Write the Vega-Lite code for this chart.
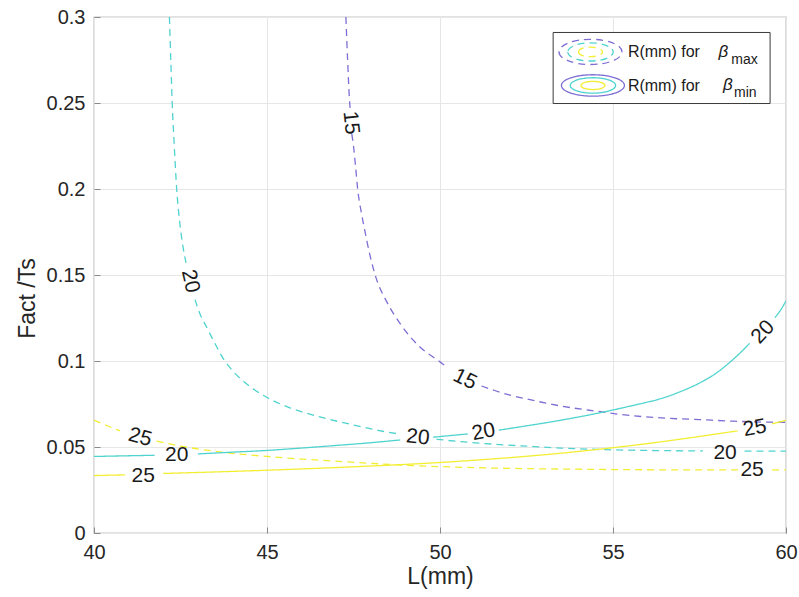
{
  "$schema": "https://vega.github.io/schema/vega-lite/v6.json",
  "width": 692,
  "height": 516,
  "autosize": {"type": "none"},
  "padding": {"left": 94, "top": 17, "right": 13, "bottom": 64},
  "background": "white",
  "config": {
    "font": "Liberation Sans",
    "view": {"stroke": "#8a8a8a", "strokeWidth": 1.2},
    "axis": {
      "domain": false,
      "grid": true,
      "gridColor": "#e6e6e6",
      "gridWidth": 1,
      "tickColor": "#8a8a8a",
      "tickSize": -6,
      "labelFont": "Liberation Sans",
      "labelFontSize": 20,
      "labelColor": "#262626",
      "labelFlush": false,
      "titleFont": "Liberation Sans",
      "titleFontSize": 23,
      "titleFontWeight": "normal",
      "titleColor": "#262626"
    }
  },
  "datasets": {
    "curves": [
      {"type": "max", "level": 15, "seg": "p1", "L": 47.28, "F": 0.300},
      {"type": "max", "level": 15, "seg": "p1", "L": 47.33, "F": 0.275},
      {"type": "max", "level": 15, "seg": "p1", "L": 47.39, "F": 0.250},
      {"type": "max", "level": 15, "seg": "p1", "L": 47.41, "F": 0.2455},
      {"type": "max", "level": 15, "seg": "p2", "L": 47.45, "F": 0.232},
      {"type": "max", "level": 15, "seg": "p2", "L": 47.50, "F": 0.225},
      {"type": "max", "level": 15, "seg": "p2", "L": 47.56, "F": 0.213},
      {"type": "max", "level": 15, "seg": "p2", "L": 47.62, "F": 0.200},
      {"type": "max", "level": 15, "seg": "p2", "L": 47.72, "F": 0.187},
      {"type": "max", "level": 15, "seg": "p2", "L": 47.83, "F": 0.1755},
      {"type": "max", "level": 15, "seg": "p2", "L": 47.97, "F": 0.162},
      {"type": "max", "level": 15, "seg": "p2", "L": 48.15, "F": 0.1485},
      {"type": "max", "level": 15, "seg": "p2", "L": 48.46, "F": 0.1345},
      {"type": "max", "level": 15, "seg": "p2", "L": 48.89, "F": 0.1205},
      {"type": "max", "level": 15, "seg": "p2", "L": 49.4, "F": 0.1085},
      {"type": "max", "level": 15, "seg": "p2", "L": 50.0, "F": 0.0995},
      {"type": "max", "level": 15, "seg": "p2", "L": 50.2, "F": 0.0965},
      {"type": "max", "level": 15, "seg": "p3", "L": 51.2, "F": 0.0855},
      {"type": "max", "level": 15, "seg": "p3", "L": 51.6, "F": 0.0827},
      {"type": "max", "level": 15, "seg": "p3", "L": 52.0, "F": 0.0803},
      {"type": "max", "level": 15, "seg": "p3", "L": 52.6, "F": 0.0775},
      {"type": "max", "level": 15, "seg": "p3", "L": 53.5, "F": 0.0738},
      {"type": "max", "level": 15, "seg": "p3", "L": 54.53, "F": 0.0708},
      {"type": "max", "level": 15, "seg": "p3", "L": 55.5, "F": 0.0683},
      {"type": "max", "level": 15, "seg": "p3", "L": 56.5, "F": 0.0668},
      {"type": "max", "level": 15, "seg": "p3", "L": 57.5, "F": 0.0659},
      {"type": "max", "level": 15, "seg": "p3", "L": 58.5, "F": 0.065},
      {"type": "max", "level": 15, "seg": "p3", "L": 59.3, "F": 0.0645},
      {"type": "max", "level": 15, "seg": "p3", "L": 60.0, "F": 0.0644},

      {"type": "max", "level": 20, "seg": "c1", "L": 42.18, "F": 0.300},
      {"type": "max", "level": 20, "seg": "c1", "L": 42.22, "F": 0.275},
      {"type": "max", "level": 20, "seg": "c1", "L": 42.26, "F": 0.250},
      {"type": "max", "level": 20, "seg": "c1", "L": 42.32, "F": 0.225},
      {"type": "max", "level": 20, "seg": "c1", "L": 42.39, "F": 0.200},
      {"type": "max", "level": 20, "seg": "c1", "L": 42.47, "F": 0.182},
      {"type": "max", "level": 20, "seg": "c1", "L": 42.56, "F": 0.168},
      {"type": "max", "level": 20, "seg": "c1", "L": 42.66, "F": 0.157},
      {"type": "max", "level": 20, "seg": "c2", "L": 42.92, "F": 0.1357},
      {"type": "max", "level": 20, "seg": "c2", "L": 43.05, "F": 0.128},
      {"type": "max", "level": 20, "seg": "c2", "L": 43.26, "F": 0.1195},
      {"type": "max", "level": 20, "seg": "c2", "L": 43.5, "F": 0.110},
      {"type": "max", "level": 20, "seg": "c2", "L": 43.74, "F": 0.1012},
      {"type": "max", "level": 20, "seg": "c2", "L": 44.0, "F": 0.0945},
      {"type": "max", "level": 20, "seg": "c2", "L": 44.3, "F": 0.0885},
      {"type": "max", "level": 20, "seg": "c2", "L": 44.6, "F": 0.0838},
      {"type": "max", "level": 20, "seg": "c2", "L": 45.0, "F": 0.0788},
      {"type": "max", "level": 20, "seg": "c2", "L": 45.66, "F": 0.0728},
      {"type": "max", "level": 20, "seg": "c2", "L": 46.53, "F": 0.0675},
      {"type": "max", "level": 20, "seg": "c2", "L": 47.5, "F": 0.0628},
      {"type": "max", "level": 20, "seg": "c2", "L": 48.2, "F": 0.0597},
      {"type": "max", "level": 20, "seg": "c2", "L": 48.8, "F": 0.0576},
      {"type": "max", "level": 20, "seg": "c3", "L": 49.9, "F": 0.0545},
      {"type": "max", "level": 20, "seg": "c3", "L": 50.5, "F": 0.0533},
      {"type": "max", "level": 20, "seg": "c3", "L": 51.16, "F": 0.0522},
      {"type": "max", "level": 20, "seg": "c3", "L": 52.5, "F": 0.0505},
      {"type": "max", "level": 20, "seg": "c3", "L": 53.5, "F": 0.0494},
      {"type": "max", "level": 20, "seg": "c3", "L": 54.53, "F": 0.0486},
      {"type": "max", "level": 20, "seg": "c3", "L": 56.0, "F": 0.048},
      {"type": "max", "level": 20, "seg": "c3", "L": 57.6, "F": 0.0477},
      {"type": "max", "level": 20, "seg": "c4", "L": 58.8, "F": 0.0476},
      {"type": "max", "level": 20, "seg": "c4", "L": 60.0, "F": 0.0476},

      {"type": "max", "level": 25, "seg": "d1", "L": 40.0, "F": 0.0656},
      {"type": "max", "level": 25, "seg": "d1", "L": 40.4, "F": 0.0622},
      {"type": "max", "level": 25, "seg": "d1", "L": 40.75, "F": 0.0594},
      {"type": "max", "level": 25, "seg": "d2", "L": 41.81, "F": 0.0534},
      {"type": "max", "level": 25, "seg": "d2", "L": 42.5, "F": 0.0505},
      {"type": "max", "level": 25, "seg": "d2", "L": 43.0, "F": 0.0489},
      {"type": "max", "level": 25, "seg": "d2", "L": 43.7, "F": 0.047},
      {"type": "max", "level": 25, "seg": "d2", "L": 45.0, "F": 0.0445},
      {"type": "max", "level": 25, "seg": "d2", "L": 46.0, "F": 0.043},
      {"type": "max", "level": 25, "seg": "d2", "L": 47.6, "F": 0.041},
      {"type": "max", "level": 25, "seg": "d2", "L": 49.0, "F": 0.0394},
      {"type": "max", "level": 25, "seg": "d2", "L": 50.0, "F": 0.0386},
      {"type": "max", "level": 25, "seg": "d2", "L": 51.4, "F": 0.0378},
      {"type": "max", "level": 25, "seg": "d2", "L": 53.0, "F": 0.0373},
      {"type": "max", "level": 25, "seg": "d2", "L": 55.0, "F": 0.0369},
      {"type": "max", "level": 25, "seg": "d2", "L": 57.0, "F": 0.0367},
      {"type": "max", "level": 25, "seg": "d2", "L": 58.65, "F": 0.0367},
      {"type": "max", "level": 25, "seg": "d3", "L": 59.6, "F": 0.0367},
      {"type": "max", "level": 25, "seg": "d3", "L": 60.0, "F": 0.0367},

      {"type": "min", "level": 20, "seg": "s1", "L": 40.0, "F": 0.0445},
      {"type": "min", "level": 20, "seg": "s1", "L": 41.0, "F": 0.0449},
      {"type": "min", "level": 20, "seg": "s1", "L": 41.75, "F": 0.0452},
      {"type": "min", "level": 20, "seg": "s2", "L": 43.0, "F": 0.046},
      {"type": "min", "level": 20, "seg": "s2", "L": 44.0, "F": 0.047},
      {"type": "min", "level": 20, "seg": "s2", "L": 45.0, "F": 0.048},
      {"type": "min", "level": 20, "seg": "s2", "L": 46.0, "F": 0.0494},
      {"type": "min", "level": 20, "seg": "s2", "L": 47.0, "F": 0.0509},
      {"type": "min", "level": 20, "seg": "s2", "L": 48.0, "F": 0.0525},
      {"type": "min", "level": 20, "seg": "s2", "L": 48.85, "F": 0.0541},
      {"type": "min", "level": 20, "seg": "s3", "L": 49.8, "F": 0.0557},
      {"type": "min", "level": 20, "seg": "s3", "L": 50.8, "F": 0.0576},
      {"type": "min", "level": 20, "seg": "s4", "L": 51.7, "F": 0.0598},
      {"type": "min", "level": 20, "seg": "s4", "L": 52.5, "F": 0.0623},
      {"type": "min", "level": 20, "seg": "s4", "L": 53.5, "F": 0.0656},
      {"type": "min", "level": 20, "seg": "s4", "L": 54.62, "F": 0.0699},
      {"type": "min", "level": 20, "seg": "s4", "L": 55.5, "F": 0.0738},
      {"type": "min", "level": 20, "seg": "s4", "L": 56.55, "F": 0.0792},
      {"type": "min", "level": 20, "seg": "s4", "L": 57.0, "F": 0.0826},
      {"type": "min", "level": 20, "seg": "s4", "L": 57.51, "F": 0.0873},
      {"type": "min", "level": 20, "seg": "s4", "L": 58.0, "F": 0.0932},
      {"type": "min", "level": 20, "seg": "s4", "L": 58.38, "F": 0.0993},
      {"type": "min", "level": 20, "seg": "s4", "L": 58.7, "F": 0.1052},
      {"type": "min", "level": 20, "seg": "s4", "L": 58.95, "F": 0.1103},
      {"type": "min", "level": 20, "seg": "s5", "L": 59.68, "F": 0.1252},
      {"type": "min", "level": 20, "seg": "s5", "L": 59.85, "F": 0.1298},
      {"type": "min", "level": 20, "seg": "s5", "L": 60.0, "F": 0.1350},

      {"type": "min", "level": 25, "seg": "y1", "L": 40.0, "F": 0.0334},
      {"type": "min", "level": 25, "seg": "y1", "L": 40.9, "F": 0.0338},
      {"type": "min", "level": 25, "seg": "y2", "L": 42.0, "F": 0.0346},
      {"type": "min", "level": 25, "seg": "y2", "L": 43.5, "F": 0.0355},
      {"type": "min", "level": 25, "seg": "y2", "L": 45.0, "F": 0.0365},
      {"type": "min", "level": 25, "seg": "y2", "L": 47.5, "F": 0.0385},
      {"type": "min", "level": 25, "seg": "y2", "L": 50.0, "F": 0.041},
      {"type": "min", "level": 25, "seg": "y2", "L": 51.2, "F": 0.0426},
      {"type": "min", "level": 25, "seg": "y2", "L": 52.5, "F": 0.0446},
      {"type": "min", "level": 25, "seg": "y2", "L": 53.8, "F": 0.047},
      {"type": "min", "level": 25, "seg": "y2", "L": 55.0, "F": 0.0496},
      {"type": "min", "level": 25, "seg": "y2", "L": 56.0, "F": 0.052},
      {"type": "min", "level": 25, "seg": "y2", "L": 57.0, "F": 0.0547},
      {"type": "min", "level": 25, "seg": "y2", "L": 57.8, "F": 0.057},
      {"type": "min", "level": 25, "seg": "y2", "L": 58.6, "F": 0.0594},
      {"type": "min", "level": 25, "seg": "y3", "L": 59.6, "F": 0.0635},
      {"type": "min", "level": 25, "seg": "y3", "L": 60.0, "F": 0.0655}
    ],
    "labels": [
      {"id": "a", "text": "15", "L": 47.42, "F": 0.2385},
      {"id": "b", "text": "20", "L": 42.78, "F": 0.1464},
      {"id": "c", "text": "15", "L": 50.72, "F": 0.0893},
      {"id": "d", "text": "25", "L": 41.33, "F": 0.0555},
      {"id": "e", "text": "20", "L": 49.36, "F": 0.0555},
      {"id": "f", "text": "20", "L": 42.39, "F": 0.0456},
      {"id": "g", "text": "25", "L": 41.42, "F": 0.0331},
      {"id": "h", "text": "20", "L": 58.24, "F": 0.0466},
      {"id": "i", "text": "25", "L": 59.02, "F": 0.0364},
      {"id": "j", "text": "20", "L": 51.26, "F": 0.0586},
      {"id": "k", "text": "25", "L": 59.1, "F": 0.0609},
      {"id": "l", "text": "20", "L": 59.34, "F": 0.1168}
    ],
    "legendKeys": [
      {"type": "max", "level": 15},
      {"type": "max", "level": 20},
      {"type": "max", "level": 25},
      {"type": "min", "level": 15},
      {"type": "min", "level": 20},
      {"type": "min", "level": 25}
    ]
  },
  "layer": [
    {
      "data": {"name": "curves"},
      "mark": {"type": "line", "strokeWidth": 1.3, "clip": true, "interpolate": "monotone"},
      "encoding": {
        "x": {
          "field": "L", "type": "quantitative",
          "scale": {"domain": [40, 60], "nice": false, "zero": false},
          "axis": {"values": [40, 45, 50, 55, 60], "format": "~g", "title": "L(mm)", "labelPadding": 15, "titlePadding": 3}
        },
        "y": {
          "field": "F", "type": "quantitative",
          "scale": {"domain": [0, 0.3], "nice": false},
          "axis": {"values": [0, 0.05, 0.1, 0.15, 0.2, 0.25, 0.3], "format": "~g", "title": "Fact /Ts", "labelPadding": 15, "titlePadding": 7, "titleY": 281}
        },
        "color": {"field": "level", "type": "nominal", "legend": null,
          "scale": {"domain": [15, 20, 25], "range": ["#7d6ed4", "#4fd3ce", "#f2ee33"]}},
        "strokeDash": {"field": "type", "type": "nominal", "legend": null,
          "scale": {"domain": ["max", "min"], "range": [[7, 5], [1, 0]]}},
        "detail": {"field": "seg"}
      }
    },
    {
      "data": {"name": "labels"},
      "transform": [{"filter": {"field": "id", "oneOf": ["a"]}}],
      "mark": {"type": "text", "angle": 84, "fontSize": 21, "color": "#1a1a1a"},
      "encoding": {"x": {"field": "L", "type": "quantitative"}, "y": {"field": "F", "type": "quantitative"}, "text": {"field": "text"}}
    },
    {
      "data": {"name": "labels"},
      "transform": [{"filter": {"field": "id", "oneOf": ["b"]}}],
      "mark": {"type": "text", "angle": 77, "fontSize": 21, "color": "#1a1a1a"},
      "encoding": {"x": {"field": "L", "type": "quantitative"}, "y": {"field": "F", "type": "quantitative"}, "text": {"field": "text"}}
    },
    {
      "data": {"name": "labels"},
      "transform": [{"filter": {"field": "id", "oneOf": ["c"]}}],
      "mark": {"type": "text", "angle": 26, "fontSize": 21, "color": "#1a1a1a"},
      "encoding": {"x": {"field": "L", "type": "quantitative"}, "y": {"field": "F", "type": "quantitative"}, "text": {"field": "text"}}
    },
    {
      "data": {"name": "labels"},
      "transform": [{"filter": {"field": "id", "oneOf": ["d"]}}],
      "mark": {"type": "text", "angle": 15, "fontSize": 21, "color": "#1a1a1a"},
      "encoding": {"x": {"field": "L", "type": "quantitative"}, "y": {"field": "F", "type": "quantitative"}, "text": {"field": "text"}}
    },
    {
      "data": {"name": "labels"},
      "transform": [{"filter": {"field": "id", "oneOf": ["e"]}}],
      "mark": {"type": "text", "angle": 6, "fontSize": 21, "color": "#1a1a1a"},
      "encoding": {"x": {"field": "L", "type": "quantitative"}, "y": {"field": "F", "type": "quantitative"}, "text": {"field": "text"}}
    },
    {
      "data": {"name": "labels"},
      "transform": [{"filter": {"field": "id", "oneOf": ["f", "g", "h", "i"]}}],
      "mark": {"type": "text", "angle": 0, "fontSize": 21, "color": "#1a1a1a"},
      "encoding": {"x": {"field": "L", "type": "quantitative"}, "y": {"field": "F", "type": "quantitative"}, "text": {"field": "text"}}
    },
    {
      "data": {"name": "labels"},
      "transform": [{"filter": {"field": "id", "oneOf": ["j", "k"]}}],
      "mark": {"type": "text", "angle": -11, "fontSize": 21, "color": "#1a1a1a"},
      "encoding": {"x": {"field": "L", "type": "quantitative"}, "y": {"field": "F", "type": "quantitative"}, "text": {"field": "text"}}
    },
    {
      "data": {"name": "labels"},
      "transform": [{"filter": {"field": "id", "oneOf": ["l"]}}],
      "mark": {"type": "text", "angle": -47, "fontSize": 21, "color": "#1a1a1a"},
      "encoding": {"x": {"field": "L", "type": "quantitative"}, "y": {"field": "F", "type": "quantitative"}, "text": {"field": "text"}}
    },
    {
      "data": {"values": [{}]},
      "mark": {"type": "rect", "fill": "white", "stroke": "#3a3a3a", "strokeWidth": 1},
      "encoding": {
        "x": {"datum": 53.27}, "x2": {"datum": 59.54},
        "y": {"datum": 0.291}, "y2": {"datum": 0.2497}
      }
    },
    {
      "data": {"name": "legendKeys"},
      "transform": [{"filter": {"field": "type", "equal": "max"}}],
      "mark": {"type": "point", "filled": false, "strokeWidth": 1.3, "opacity": 1,
        "shape": "M-1,0A1,0.4,0,1,0,1,0A1,0.4,0,1,0,-1,0Z"},
      "encoding": {
        "x": {"datum": 54.35}, "y": {"datum": 0.2797},
        "color": {"field": "level", "type": "nominal", "legend": null},
        "strokeDash": {"field": "type", "type": "nominal", "legend": null},
        "size": {"field": "level", "type": "quantitative", "legend": null,
          "scale": {"type": "log", "domain": [15, 25], "range": [3969, 576]}}
      }
    },
    {
      "data": {"name": "legendKeys"},
      "transform": [{"filter": {"field": "type", "equal": "min"}}],
      "mark": {"type": "point", "filled": false, "strokeWidth": 1.3, "opacity": 1,
        "shape": "M-1,0A1,0.34,0,1,0,1,0A1,0.34,0,1,0,-1,0Z"},
      "encoding": {
        "x": {"datum": 54.42}, "y": {"datum": 0.2602},
        "color": {"field": "level", "type": "nominal", "legend": null},
        "strokeDash": {"field": "type", "type": "nominal", "legend": null},
        "size": {"field": "level", "type": "quantitative", "legend": null}
      }
    },
    {
      "data": {"values": [{}]},
      "mark": {"type": "text", "text": "R(mm) for", "align": "left", "baseline": "middle", "fontSize": 16, "color": "#1a1a1a"},
      "encoding": {"x": {"datum": 55.43}, "y": {"datum": 0.2797}}
    },
    {
      "data": {"values": [{}]},
      "mark": {"type": "text", "text": "R(mm) for", "align": "left", "baseline": "middle", "fontSize": 16, "color": "#1a1a1a"},
      "encoding": {"x": {"datum": 55.43}, "y": {"datum": 0.2596}}
    },
    {
      "data": {"values": [{}]},
      "mark": {"type": "text", "text": "β", "align": "left", "baseline": "middle", "fontSize": 17, "fontStyle": "italic", "color": "#1a1a1a"},
      "encoding": {"x": {"datum": 58.05}, "y": {"datum": 0.2797}}
    },
    {
      "data": {"values": [{}]},
      "mark": {"type": "text", "text": "β", "align": "left", "baseline": "middle", "fontSize": 17, "fontStyle": "italic", "color": "#1a1a1a"},
      "encoding": {"x": {"datum": 58.18}, "y": {"datum": 0.2605}}
    },
    {
      "data": {"values": [{}]},
      "mark": {"type": "text", "text": "max", "align": "left", "baseline": "middle", "fontSize": 14, "color": "#1a1a1a"},
      "encoding": {"x": {"datum": 58.42}, "y": {"datum": 0.2748}}
    },
    {
      "data": {"values": [{}]},
      "mark": {"type": "text", "text": "min", "align": "left", "baseline": "middle", "fontSize": 14, "color": "#1a1a1a"},
      "encoding": {"x": {"datum": 58.5}, "y": {"datum": 0.2558}}
    }
  ]
}
